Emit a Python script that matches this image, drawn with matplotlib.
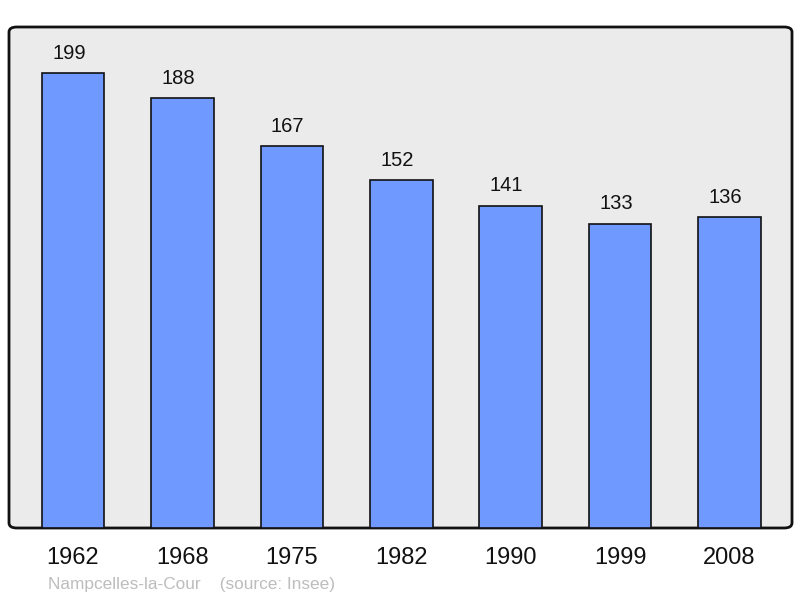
import matplotlib
matplotlib.use("Agg")
import matplotlib.pyplot as plt
from matplotlib.patches import FancyBboxPatch

years = ["1962", "1968", "1975", "1982", "1990", "1999", "2008"]
population = [199, 188, 167, 152, 141, 133, 136]
footer = "Nampcelles-la-Cour    (source: Insee)"

plt.rcParams['font.family'] = ['Liberation Sans', 'DejaVu Sans']

fig = plt.figure(figsize=(8.0, 5.98), dpi=100)
ax = fig.add_axes([9/800, 70/598, 783/800, 501/598])
ax.set_xlim(-0.585, 6.572)
ax.set_ylim(0, 219.1)
ax.axis('off')

bg = FancyBboxPatch((0, 0), 1, 1, boxstyle="round,pad=0,rounding_size=0.01",
                    transform=ax.transAxes, facecolor='#ebebeb', edgecolor='#111111',
                    linewidth=2, zorder=0, clip_on=False)
ax.add_patch(bg)

x = list(range(len(years)))
bars = ax.bar(x, population, width=0.572, color='#7099ff', edgecolor='#111111',
              linewidth=1.2, zorder=2)
for xi, v in zip(x, population):
    ax.annotate(str(v), (xi, v), xytext=(-3, 7.5), textcoords='offset points',
                ha='center', va='bottom', fontsize=14.5, color='#111111')
for xi, y in zip(x, years):
    ax.annotate(y, (xi, 0), xytext=(0, -14), textcoords='offset points',
                ha='center', va='top', fontsize=17, color='#111111',
                annotation_clip=False)

fig.text(48/800, 1 - 584/598, footer, ha='left', va='center', fontsize=12.4,
         color='#bdbdbd')

fig.savefig('out.png', dpi=100)
